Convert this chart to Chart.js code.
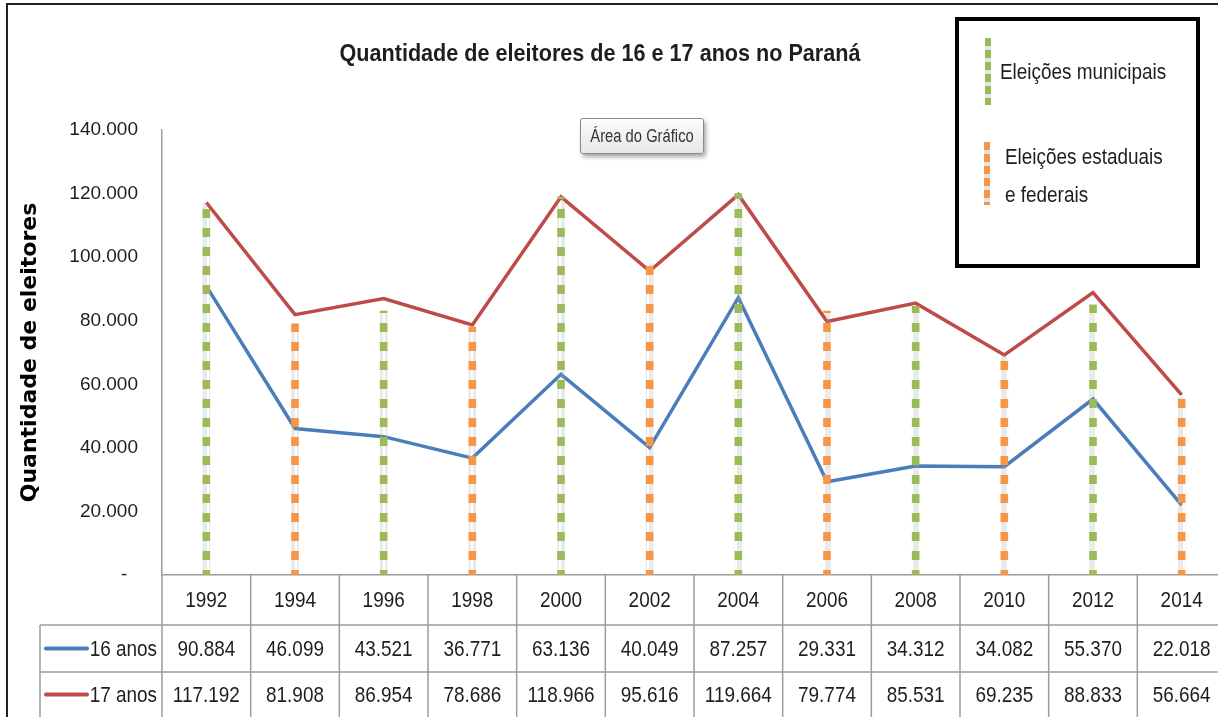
<!DOCTYPE html>
<html lang="pt-BR">
<head>
<meta charset="UTF-8">
<title>Eleitores de 16 e 17 anos no Paraná</title>
<script src="https://cdn.jsdelivr.net/npm/chart.js@4.4.0/dist/chart.umd.min.js"></script>
<style>
  body { margin: 0; overflow: hidden; background: #fff; }
  #wrap { position: relative; width: 1226px; height: 717px; font-family: 'Liberation Sans', Arial, sans-serif; color: #1e1e1e; }
  #grafico { position: absolute; left: 0; top: 0; }
  #moldura { position: absolute; left: 6px; top: 3px; width: 1300px; height: 800px; border-left: 2.5px solid #222; border-top: 2.5px solid #222; pointer-events: none; }
  #titulo { position: absolute; left: 0; width: 1200px; top: 39px; text-align: center; font-weight: bold; font-size: 24px; transform: scaleX(0.9); transform-origin: 600px 0; }
  #area { position: absolute; left: 580px; top: 118px; width: 122px; height: 34px; border: 1px solid #8a8a8a; border-radius: 3px; white-space: nowrap;
          background: linear-gradient(#fdfdfd, #e6e6ec); box-shadow: 2px 3px 4px rgba(0,0,0,0.35); line-height: 34px; text-align: center; color: #333; }
  #area span { display: inline-block; font-size: 18px; transform: scaleX(0.82); transform-origin: 50% 0; margin: 0 -20px; }
  #legenda { position: absolute; left: 955px; top: 17px; width: 237px; height: 243px; border: 4px solid #000; background: #fff; }
  .traco { position: absolute; width: 6px; }
  .verde { background: repeating-linear-gradient(#9bbb59 0 8px, rgba(170,170,170,0.3) 8px 12px); }
  .laranja { background: repeating-linear-gradient(#f79646 0 8px, rgba(170,170,170,0.3) 8px 12px); }
  .rotulo { position: absolute; font-size: 22px; white-space: nowrap; transform: scaleX(0.86); transform-origin: 0 0; }
</style>
</head>
<body>
<div id="wrap">
  <canvas id="grafico" width="1226" height="717"></canvas>
  <div id="moldura"></div>
  <div id="titulo">Quantidade de eleitores de 16 e 17 anos no Paraná</div>
  <div id="area"><span>Área do Gráfico</span></div>
  <div id="legenda">
    <div class="traco verde" style="left:26px; top:17px; height:67px;"></div>
    <div class="rotulo" style="left:41px; top:38px;">Eleições municipais</div>
    <div class="traco laranja" style="left:25px; top:121px; height:63px;"></div>
    <div class="rotulo" style="left:46px; top:123px;">Eleições estaduais</div>
    <div class="rotulo" style="left:46px; top:161px;">e federais</div>
  </div>
</div>
<script>
// Dados
const anos = ['1992', '1994', '1996', '1998', '2000', '2002', '2004', '2006', '2008', '2010', '2012', '2014'];
const eleitores16 = [90884, 46099, 43521, 36771, 63136, 40049, 87257, 29331, 34312, 34082, 55370, 22018];
const eleitores17 = [117192, 81908, 86954, 78686, 118966, 95616, 119664, 79774, 85531, 69235, 88833, 56664];
// altura das linhas tracejadas
const municipais = [117000, null, 83000, null, 119000, null, 120000, null, 84500, null, 85000, null];
const estaduais = [null, 79000, null, 78000, null, 98000, null, 83000, null, 69000, null, 56000];
const yTicks = [0, 20000, 40000, 60000, 80000, 100000, 120000, 140000];

const fonte = "'Liberation Sans', Arial, sans-serif";
const azul = '#4a7ebb';
const vermelho = '#be4b48';

function tracejado(cor) {
    const c = document.createElement('canvas');
    c.width = 8; c.height = 19;
    const g = c.getContext('2d');
    g.fillStyle = cor;
    g.fillRect(0, 0, 8, 9);
    g.fillStyle = 'rgba(170,170,170,0.25)';
    g.fillRect(1, 9, 6, 10);
    return g.createPattern(c, 'repeat');
}

function fmt(v) {
    return v.toLocaleString('pt-BR');
}

// texto estreito (simula fonte condensada)
function texto(ctx, t, x, y, alinh) {
    ctx.save();
    ctx.translate(x, y);
    ctx.scale(0.86, 1);
    ctx.textAlign = alinh;
    ctx.fillText(t, 0, 0);
    ctx.restore();
}

// tabela de dados abaixo do eixo x
const tabela = {
    id: 'tabela',
    afterDraw(chart) {
        const { ctx, chartArea, scales: { x } } = chart;
        const passo = x.getPixelForValue(1) - x.getPixelForValue(0);
        const y0 = chartArea.bottom, y1 = y0 + 50, y2 = y1 + 47, y3 = chart.height;
        const esq = 40, dir = chartArea.right;
        ctx.save();
        ctx.strokeStyle = '#9c9c9c';
        ctx.lineWidth = 1.5;
        ctx.beginPath();
        ctx.moveTo(esq, y1); ctx.lineTo(dir, y1);
        ctx.moveTo(esq, y2); ctx.lineTo(dir, y2);
        ctx.moveTo(esq, y1); ctx.lineTo(esq, y3);
        for (let i = 0; i <= anos.length; i++) {
            const px = chartArea.left + i * passo;
            ctx.moveTo(px, y0); ctx.lineTo(px, y3);
        }
        ctx.stroke();

        ctx.fillStyle = '#1e1e1e';
        ctx.font = '22px ' + fonte;
        ctx.textBaseline = 'middle';
        anos.forEach((a, i) => {
            const px = x.getPixelForValue(i);
            texto(ctx, a, px, (y0 + y1) / 2 + 1, 'center');
            texto(ctx, fmt(eleitores16[i]), px, (y1 + y2) / 2 + 1, 'center');
            texto(ctx, fmt(eleitores17[i]), px, (y2 + y3) / 2 + 1, 'center');
        });

        // legenda das séries
        ctx.lineWidth = 4;
        ctx.lineCap = 'round';
        [[azul, '16 anos', (y1 + y2) / 2], [vermelho, '17 anos', (y2 + y3) / 2]].forEach(([cor, txt, yy]) => {
            ctx.strokeStyle = cor;
            ctx.beginPath();
            ctx.moveTo(46, yy); ctx.lineTo(87, yy);
            ctx.stroke();
            texto(ctx, txt, 157, yy + 1, 'right');
        });
        ctx.restore();
    }
};

new Chart(document.getElementById('grafico'), {
    data: {
        labels: anos,
        datasets: [
            { type: 'bar', label: 'Eleições municipais', data: municipais, backgroundColor: tracejado('#9bbb59'), barThickness: 7, grouped: false, order: 0 },
            { type: 'bar', label: 'Eleições estaduais e federais', data: estaduais, backgroundColor: tracejado('#f79646'), barThickness: 7, grouped: false, order: 0 },
            { type: 'line', label: '16 anos', data: eleitores16, borderColor: azul, borderWidth: 3.5, pointRadius: 0, tension: 0, order: 1 },
            { type: 'line', label: '17 anos', data: eleitores17, borderColor: vermelho, borderWidth: 3.5, pointRadius: 0, tension: 0, order: 1 }
        ]
    },
    options: {
        responsive: false,
        animation: false,
        layout: { padding: { top: 130, right: 0, bottom: 0, left: 0 } },
        plugins: { legend: { display: false }, tooltip: { enabled: false } },
        scales: {
            x: {
                offset: true,
                grid: { display: false, drawTicks: false },
                border: { display: true, color: '#9c9c9c', width: 1.5 },
                ticks: { display: false },
                afterFit(scale) { scale.height = 142; }
            },
            y: {
                min: 0,
                max: 140000,
                afterBuildTicks(scale) { scale.ticks = yTicks.map(v => ({ value: v })); },
                grid: { display: false, drawTicks: false },
                border: { display: true, color: '#9c9c9c', width: 1.5 },
                ticks: {
                    padding: 24,
                    color: '#1e1e1e',
                    font: { family: fonte, size: 19 },
                    callback: v => v === 0 ? '-  ' : fmt(v)
                },
                title: {
                    display: true,
                    text: 'Quantidade de eleitores',
                    color: '#000',
                    font: { family: "'DejaVu Sans', sans-serif", size: 22, weight: 'bold' },
                    padding: { top: 17, bottom: 0 }
                },
                afterFit(scale) { scale.width = 162; }
            }
        }
    },
    plugins: [tabela]
});
</script>
</body>
</html>
